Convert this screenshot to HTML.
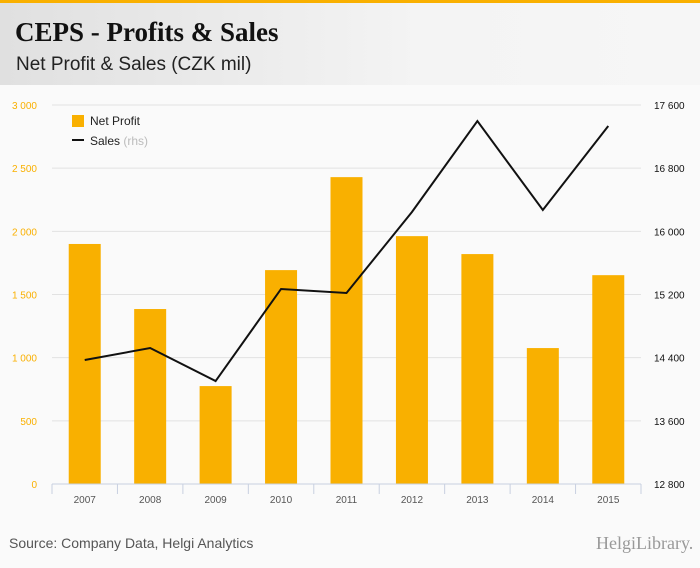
<!DOCTYPE html>
<html><head><meta charset="utf-8"><style>
body{margin:0;width:700px;height:568px;background:#fafafa;font-family:"Liberation Sans",sans-serif;overflow:hidden;position:relative}
#hdr{position:absolute;left:0;top:0;width:700px;height:85px;background:linear-gradient(90deg,#e0e0e0,#f4f4f4 60%,#f6f6f6);border-top:3px solid #f9b000;box-sizing:border-box}
#title{position:absolute;left:15px;top:14px;font-family:"Liberation Serif",serif;font-weight:bold;font-size:27px;color:#111}
#sub{position:absolute;left:16px;top:51px;font-size:19px;color:#222}
#src{position:absolute;left:9px;top:535px;font-size:14px;color:#555}
#logo{position:absolute;left:596px;top:533px;font-size:18px;color:#999;font-family:"Liberation Serif",serif}
svg{position:absolute;left:0;top:0}
</style></head><body>
<div id="hdr"><div id="title">CEPS - Profits &amp; Sales</div><div id="sub">Net Profit &amp; Sales (CZK mil)</div></div>
<svg id="chart" width="700" height="568"></svg>
<div id="src">Source: Company Data, Helgi Analytics</div>
<div id="logo">HelgiLibrary.</div>
<script>
const categories=["2007","2008","2009","2010","2011","2012","2013","2014","2015"];
const profits=[1900,1385,775,1693,2429,1962,1820,1076,1653];
const sales=[14370,14522,14104,15270,15219,16245,17397,16270,17334];
const leftTicks=[0,500,1000,1500,2000,2500,3000];
const rightTicks=[12800,13600,14400,15200,16000,16800,17600];
const svg=document.getElementById('chart');const NS='http://www.w3.org/2000/svg';
const X0=52,X1=641,Y0=484,Y1=105;
const bw=(X1-X0)/categories.length;
const yL=v=>Y0-(v/3000)*(Y0-Y1);
const yR=v=>Y0-((v-12800)/4800)*(Y0-Y1);
const xC=i=>X0+bw*(i+0.5);
function mk(t,a,txt){const e=document.createElementNS(NS,t);for(const k in a)e.setAttribute(k,a[k]);if(txt!==undefined)e.textContent=txt;svg.appendChild(e);return e;}
leftTicks.forEach((v,i)=>{
 if(v>0){const g=mk('line',{x1:X0,x2:X1,y1:yL(v),y2:yL(v),stroke:'#e2e2e2','stroke-width':1});
 
 }
 const t=mk('text',{x:37,y:yL(v)+4,'text-anchor':'end','font-size':10,fill:'#f9b000'},v===0?'0':v.toLocaleString('en').replace(',',' '));
 
 
});
rightTicks.forEach(v=>{
 const t=mk('text',{x:654,y:yR(v)+4,'font-size':10,fill:'#111'},String(v).replace(/(\d{2})(\d{3})$/,'$1 $2'));
 
 
});
profits.forEach((v,i)=>{
 const r=mk('rect',{x:xC(i)-16,y:yL(v),width:32,height:Y0-yL(v),fill:'#f9b000'});
 
 
});
const ax=mk('line',{x1:X0,x2:X1,y1:Y0,y2:Y0,stroke:'#c8d0e0','stroke-width':1});


for(let i=0;i<=categories.length;i++){const tk=mk('line',{x1:X0+bw*i,x2:X0+bw*i,y1:Y0,y2:Y0+10,stroke:'#c8d0e0'});
 
 }
categories.forEach((c,i)=>{const t=mk('text',{x:xC(i),y:503,'text-anchor':'middle','font-size':10,fill:'#555'},c);
 
 });
const ln=mk('polyline',{points:sales.map((v,i)=>xC(i)+','+yR(v)).join(' '),fill:'none',stroke:'#111','stroke-width':2});


const l1=mk('rect',{x:72,y:115,width:12,height:12,fill:'#f9b000'});


const l1t=mk('text',{x:90,y:125,'font-size':12,fill:'#222'},'Net Profit');


const l2=mk('line',{x1:72,x2:84,y1:140,y2:140,stroke:'#111','stroke-width':2});


const l2t=mk('text',{x:90,y:145,'font-size':12,fill:'#222'},'Sales ');


const ts=document.createElementNS(NS,'tspan');ts.setAttribute('fill','#bbb');ts.textContent='(rhs)';l2t.appendChild(ts);
</script>
</body></html>
